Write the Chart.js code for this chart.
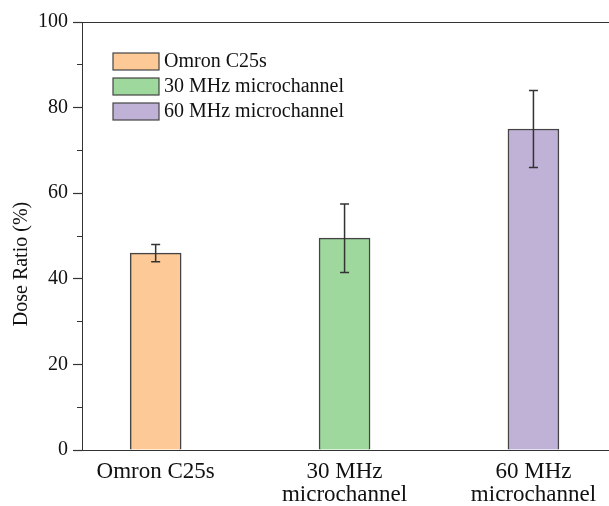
<!DOCTYPE html>
<html>
<head>
<meta charset="utf-8">
<title>Dose Ratio</title>
<script src="https://cdn.jsdelivr.net/npm/chart.js@4.4.1/dist/chart.umd.min.js"></script>
<style>
  html, body { margin: 0; padding: 0; background: #fff; }
  #wrap { width: 609px; height: 506px; position: relative; }
</style>
</head>
<body>
<div id="wrap"><canvas id="doseChart"></canvas></div>
<script>
// data
const categories = ["Omron C25s", ["30 MHz", "microchannel"], ["60 MHz", "microchannel"]];
const legendLabels = ["Omron C25s", "30 MHz microchannel", "60 MHz microchannel"];
const positions = [1, 2, 3];
const doseRatio = [46, 49.5, 75];
const doseError = [2, 8, 9];
const barColors = ["#FCC997", "#9ED89C", "#C0B1D6"];
const yTitle = "Dose Ratio (%)";

const serif = "'Liberation Serif', 'DejaVu Serif', serif";

// error bars, legend and y title
const extras = {
  id: "extras",
  afterDatasetsDraw(chart) {
    const { ctx, scales: { x, y } } = chart;
    ctx.save();
    ctx.strokeStyle = "#333";
    ctx.lineWidth = 1.5;
    doseRatio.forEach((v, i) => {
      const px = x.getPixelForValue(positions[i]);
      const top = y.getPixelForValue(v + doseError[i]);
      const bot = y.getPixelForValue(v - doseError[i]);
      ctx.beginPath();
      ctx.moveTo(px, top); ctx.lineTo(px, bot);
      ctx.moveTo(px - 4.5, top); ctx.lineTo(px + 4.5, top);
      ctx.moveTo(px - 4.5, bot); ctx.lineTo(px + 4.5, bot);
      ctx.stroke();
    });
    ctx.restore();
  },
  afterDraw(chart) {
    const { ctx } = chart;
    ctx.save();
    // legend
    ctx.font = "20px " + serif;
    ctx.textBaseline = "middle";
    ctx.textAlign = "left";
    legendLabels.forEach((lab, i) => {
      const top = 53 + i * 25;
      ctx.fillStyle = barColors[i];
      ctx.fillRect(113, top, 46, 17);
      ctx.strokeStyle = "#444";
      ctx.lineWidth = 1.2;
      ctx.strokeRect(113, top, 46, 17);
      ctx.fillStyle = "#111";
      ctx.fillText(lab, 164, top + 9);
    });
    // y axis title
    ctx.translate(22, 264);
    ctx.rotate(-Math.PI / 2);
    ctx.textAlign = "center";
    ctx.fillText(yTitle, 0, 0);
    ctx.restore();
  }
};

const isMajor = (ctx) => ctx.tick && ctx.tick.value % 20 === 0;

new Chart(document.getElementById("doseChart"), {
  type: "bar",
  data: {
    datasets: [{
      data: positions.map((p, i) => ({ x: p, y: doseRatio[i] })),
      backgroundColor: barColors,
      borderColor: "#444",
      borderWidth: 1.5,
      barThickness: 51
    }]
  },
  options: {
    responsive: true,
    maintainAspectRatio: false,
    animation: false,
    layout: { padding: { top: 22, left: 0, right: 0, bottom: 0 } },
    plugins: { legend: { display: false }, tooltip: { enabled: false } },
    scales: {
      x: {
        type: "linear",
        min: 0.61,
        max: 3.4,
        offset: false,
        afterBuildTicks(s) { s.ticks = positions.map(p => ({ value: p })); },
        afterFit(s) { s.height = 56; },
        ticks: {
          callback: (v, i) => categories[i],
          color: "#111",
          padding: 10,
          maxRotation: 0,
          autoSkip: false,
          font: { family: serif, size: 23, lineHeight: 1.0 }
        },
        grid: { display: false, drawTicks: false, offset: false },
        border: { display: true, color: "#333", width: 1 }
      },
      xTop: {
        type: "linear",
        position: "top",
        offset: false,
        afterFit(s) { s.height = 0; },
        ticks: { display: false },
        grid: { drawOnChartArea: false, drawTicks: false },
        border: { display: true, color: "#333", width: 1 }
      },
      y: {
        min: 0,
        max: 100,
        afterFit(s) { s.width = 82; },
        ticks: {
          stepSize: 10,
          padding: 5,
          color: "#111",
          callback: (v) => (v % 20 === 0 ? v : ""),
          font: { family: serif, size: 20 }
        },
        grid: {
          drawOnChartArea: false,
          tickLength: 9,
          tickColor: "#333",
          tickWidth: 1.2,
          // minor ticks: only the inner 5px of the 9px mark
          tickBorderDash: (ctx) => (isMajor(ctx) ? [] : [0, 4, 5, 20])
        },
        border: { display: true, color: "#333", width: 1 }
      }
    }
  },
  plugins: [extras]
});
</script>
</body>
</html>
